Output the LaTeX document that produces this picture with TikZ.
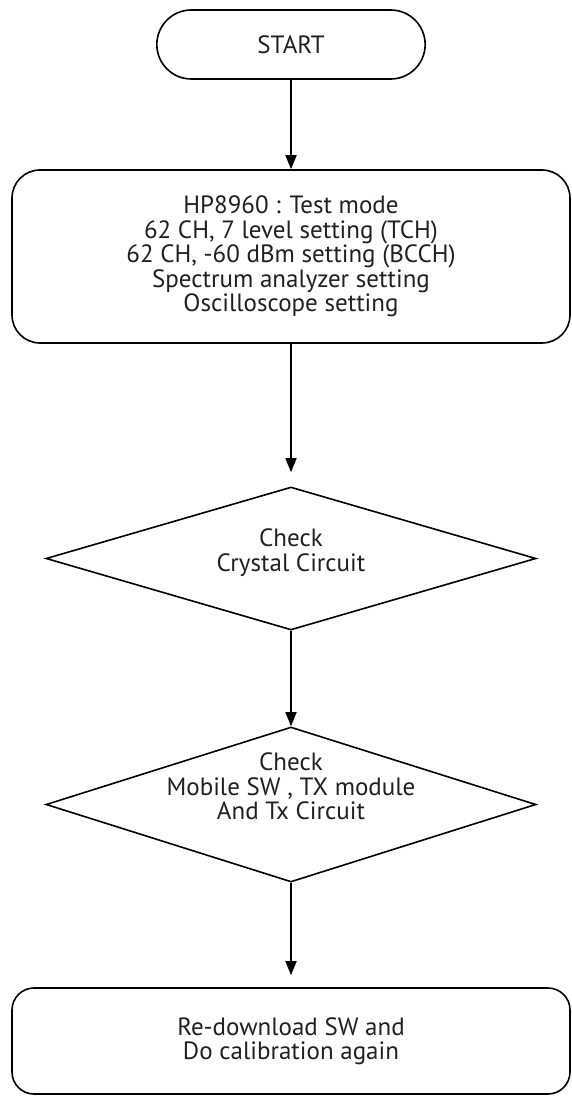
\documentclass[tikz,border=0pt]{standalone}
\usepackage{fontspec}
\setmainfont{PT Sans}
\usepackage{tikz}
\usetikzlibrary{arrows.meta,positioning,shapes.misc,shapes.geometric}
\definecolor{txtgray}{RGB}{35,31,32}

\begin{document}
\begin{tikzpicture}[x=1pt,y=-1pt,line width=1.6pt,>={Triangle[length=14pt,width=11pt]},
  font=\fontsize{25}{24.5}\selectfont,
  term/.style={draw,rounded rectangle,minimum width=275pt,minimum height=69pt,text=txtgray},
  blk/.style={draw,rounded corners=28pt,minimum width=558pt,align=center,text=txtgray},
  dec/.style={draw,diamond,inner sep=0pt,minimum width=490pt},
  txt/.style={align=center,text=txtgray,inner sep=0pt}]
  \useasboundingbox (0,0) rectangle (571,1097);
  \node[term] (start) at (291,44.5) {START};
  \node[blk,minimum height=173pt] (setup) at (291,256.5) {HP8960 : Test mode\\62 CH, 7 level setting (TCH)\\62 CH, -60 dBm setting (BCCH)\\Spectrum analyzer setting\\Oscilloscope setting};
  \node[dec,minimum height=143pt] (xtal) at (291,558.5) {};
  \node[txt] (xtaltxt) at ([yshift=6pt]xtal.center) {Check\\Crystal Circuit};
  \node[dec,minimum height=155pt] (txchk) at (291,804.5) {};
  \node[txt] (txchktxt) at ([yshift=18pt]txchk.center) {Check\\Mobile SW , TX module\\And Tx Circuit};
  \node[blk,minimum height=106pt,rounded corners=22pt] (redo) at (291,1041) {Re-download SW and\\Do calibration again};
  \draw[->] (start.south) -- (setup.north);
  \draw[->,shorten >=14pt] (setup.south) -- (xtal.north);
  \draw[->] (xtal.south) -- (txchk.north);
  \draw[->,shorten >=12pt] (txchk.south) -- (redo.north);
\end{tikzpicture}
\end{document}
